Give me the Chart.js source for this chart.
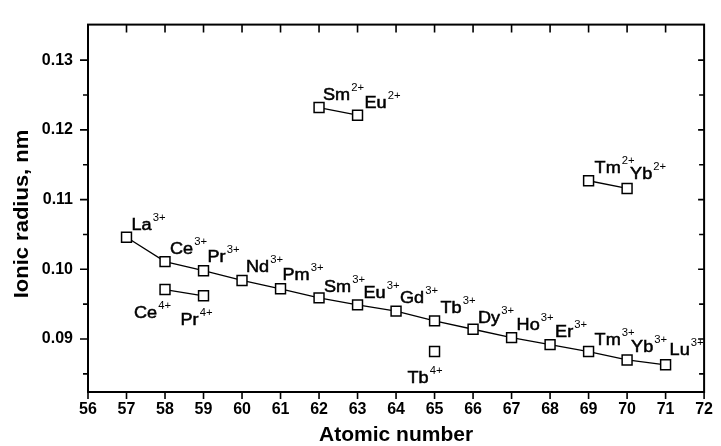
<!DOCTYPE html>
<html>
<head>
<meta charset="utf-8">
<script src="https://cdn.jsdelivr.net/npm/chart.js@4.4.1/dist/chart.umd.min.js"></script>
<style>
  html, body { margin: 0; padding: 0; background: #fff; }
  canvas { display: block; }
</style>
</head>
<body>
<canvas id="chart" width="721" height="446"></canvas>
<script>
// radios iónicos de lantánidos (nm)
const atomicNumbers = [57, 58, 59, 60, 61, 62, 63, 64, 65, 66, 67, 68, 69, 70, 71];
const radii3 = [0.1046, 0.1011, 0.0998, 0.0984, 0.0972, 0.0959, 0.0949, 0.0940, 0.0926, 0.0914, 0.0902, 0.0892, 0.0882, 0.0870, 0.0863];
const names3 = ["La", "Ce", "Pr", "Nd", "Pm", "Sm", "Eu", "Gd", "Tb", "Dy", "Ho", "Er", "Tm", "Yb", "Lu"];

const x4pair = [58, 59];
const radii4pair = [0.0971, 0.0962];
const names4pair = ["Ce", "Pr"];

const x4tb = [65];
const radii4tb = [0.0882];
const names4tb = ["Tb"];

const x2a = [62, 63];
const radii2a = [0.1232, 0.1221];
const names2a = ["Sm", "Eu"];

const x2b = [69, 70];
const radii2b = [0.1127, 0.1116];
const names2b = ["Tm", "Yb"];

const xTicks = [56, 57, 58, 59, 60, 61, 62, 63, 64, 65, 66, 67, 68, 69, 70, 71, 72];
const yTicks = [0.09, 0.10, 0.11, 0.12, 0.13];
const yMinorTicks = [0.085, 0.095, 0.105, 0.115, 0.125];

// desplazamiento de las etiquetas respecto al punto (px)
const offs3 = [[5,-7],[5,-8],[4,-9],[4,-8],[2,-9],[5,-6],[6,-7],[4,-8],[6,-8],[5,-6],[5,-8],[5,-8],[6,-7],[4,-8],[4,-10]];
const offs4pair = [[-31,28],[-23,29]];
const offs4tb = [[-27,31]];
const offs2a = [[4,-8],[7,-7]];
const offs2b = [[6,-8],[3,-9]];

const FONT = "'Liberation Sans', Arial, sans-serif";
const STRETCH = 1.13; // el original está algo ensanchado

function serie(xs, ys, names, charge, offs) {
  return {
    data: xs.map((x, i) => ({ x: x, y: ys[i] })),
    names: names, charge: charge, offs: offs,
    showLine: true,
    borderColor: "#000",
    borderWidth: 1.3,
    pointStyle: "rect",
    pointRadius: 7,
    pointBorderWidth: 1.5,
    pointBorderColor: "#000",
    pointBackgroundColor: "#fff"
  };
}

/* ------------------ plugin: marco, ticks y etiquetas ------------------ */
const framePlugin = {
  id: "frame",
  afterDraw(chart) {
    const ctx = chart.ctx;
    const a = chart.chartArea;
    const xs = chart.scales.x, ys = chart.scales.y;
    ctx.save();
    ctx.strokeStyle = "#000";
    ctx.lineWidth = 2;
    ctx.strokeRect(a.left, a.top, a.right - a.left, a.bottom - a.top);

    ctx.lineWidth = 1.6;
    ctx.beginPath();
    xTicks.forEach(v => {
      const px = xs.getPixelForValue(v);
      ctx.moveTo(px, a.bottom); ctx.lineTo(px, a.bottom + 7);
      if (v > xTicks[0] && v < xTicks[xTicks.length - 1]) {
        ctx.moveTo(px, a.top); ctx.lineTo(px, a.top + 8);
      }
    });
    yTicks.forEach(v => {
      const py = ys.getPixelForValue(v);
      ctx.moveTo(a.left - 8, py); ctx.lineTo(a.left, py);
      ctx.moveTo(a.right, py); ctx.lineTo(a.right - 6, py);
    });
    yMinorTicks.forEach(v => {
      const py = ys.getPixelForValue(v);
      ctx.moveTo(a.left - 5, py); ctx.lineTo(a.left, py);
      ctx.moveTo(a.right, py); ctx.lineTo(a.right - 5, py);
    });
    ctx.stroke();

    // título del eje y (algo más abajo que el centro del área)
    ctx.save();
    ctx.translate(22, 214);
    ctx.rotate(-Math.PI / 2);
    ctx.scale(1.1, 1);
    ctx.font = "bold 20px " + FONT;
    ctx.fillStyle = "#000";
    ctx.textAlign = "center";
    ctx.textBaseline = "middle";
    ctx.fillText("Ionic radius, nm", 0, 0);
    ctx.restore();

    // etiquetas de iones con superíndice
    ctx.fillStyle = "#000";
    ctx.strokeStyle = "#000";
    ctx.lineWidth = 0.5;
    ctx.textBaseline = "alphabetic";
    ctx.textAlign = "left";
    chart.data.datasets.forEach((ds, di) => {
      const meta = chart.getDatasetMeta(di);
      meta.data.forEach((pt, i) => {
        const [dx, dy] = ds.offs[i];
        ctx.save();
        ctx.translate(pt.x + dx, pt.y + dy);
        ctx.scale(STRETCH, 1);
        ctx.font = "16px " + FONT;
        ctx.fillText(ds.names[i], 0, 0);
        ctx.strokeText(ds.names[i], 0, 0);
        const w = ctx.measureText(ds.names[i]).width;
        ctx.font = "10px " + FONT;
        ctx.fillText(ds.charge, w + 1, -9);
        ctx.restore();
      });
    });
    ctx.restore();
  }
};

new Chart(document.getElementById("chart"), {
  type: "scatter",
  data: {
    datasets: [
      serie(atomicNumbers, radii3, names3, "3+", offs3),
      serie(x4pair, radii4pair, names4pair, "4+", offs4pair),
      serie(x4tb, radii4tb, names4tb, "4+", offs4tb),
      serie(x2a, radii2a, names2a, "2+", offs2a),
      serie(x2b, radii2b, names2b, "2+", offs2b)
    ]
  },
  options: {
    responsive: false,
    animation: false,
    layout: { padding: { top: 17, right: 9, left: 0, bottom: 0 } },
    plugins: { legend: { display: false }, tooltip: { enabled: false } },
    scales: {
      x: {
        type: "linear", min: 56, max: 72,
        afterBuildTicks: s => { s.ticks = xTicks.map(v => ({ value: v })); },
        afterFit: s => { s.height = 54; },
        grid: { display: false, drawTicks: false },
        border: { display: false },
        ticks: { padding: 8, color: "#000", maxRotation: 0, autoSkip: false,
                 font: { family: FONT, size: 16, weight: "bold" } },
        title: { display: true, text: "Atomic number", color: "#000",
                 padding: { top: 0, bottom: 0 },
                 font: { family: FONT, size: 21, weight: "bold", lineHeight: 1 } }
      },
      y: {
        type: "linear", min: 0.0824, max: 0.1351,
        afterBuildTicks: s => { s.ticks = yTicks.map(v => ({ value: v })); },
        afterFit: s => { s.width = 88; },
        grid: { display: false, drawTicks: false },
        border: { display: false },
        ticks: { padding: 15, color: "#000", callback: v => v.toFixed(2),
                 font: { family: FONT, size: 16, weight: "bold" } },
        title: { display: false }
      }
    }
  },
  plugins: [framePlugin]
});
</script>
</body>
</html>
